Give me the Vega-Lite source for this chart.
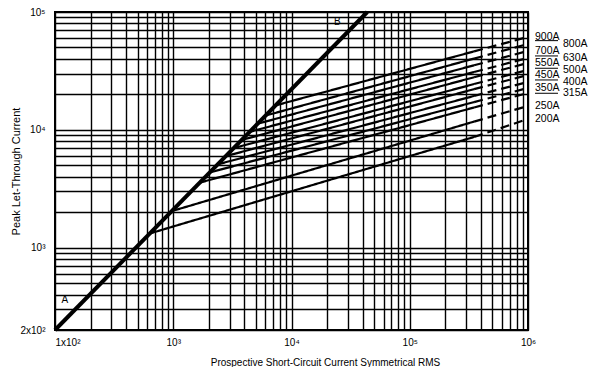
{
  "$schema": "https://vega.github.io/schema/vega-lite/v6.json",
  "width": 473,
  "height": 318,
  "autosize": {"type": "none"},
  "padding": {"left": 55, "top": 12, "right": 65, "bottom": 37},
  "background": "white",
  "config": {
    "font": "Liberation Sans",
    "view": {"stroke": "black", "strokeWidth": 2},
    "axis": {"gridColor": "black", "gridOpacity": 1, "gridWidth": 1.4, "ticks": false, "domain": false, "labelColor": "black", "titleColor": "black", "labelFont": "Liberation Sans", "titleFont": "Liberation Sans", "labelFontSize": 10, "titleFontSize": 10, "titleFontWeight": "normal", "labelOverlap": false}
  },
  "datasets": {
    "fuse": [
      {"s": "200A", "g": "solid", "x": 633, "y": 1319}, {"s": "200A", "g": "solid", "x": 350000, "y": 8700}, {"s": "200A", "g": "dash", "x": 350000, "y": 8700}, {"s": "200A", "g": "dash", "x": 1000000, "y": 12360},
      {"s": "250A", "g": "solid", "x": 971, "y": 2042}, {"s": "250A", "g": "solid", "x": 350000, "y": 11750}, {"s": "250A", "g": "dash", "x": 350000, "y": 11750}, {"s": "250A", "g": "dash", "x": 1000000, "y": 15940},
      {"s": "315A", "g": "solid", "x": 1673, "y": 3561}, {"s": "315A", "g": "solid", "x": 350000, "y": 15480}, {"s": "315A", "g": "dash", "x": 350000, "y": 15480}, {"s": "315A", "g": "dash", "x": 1000000, "y": 20560},
      {"s": "350A", "g": "solid", "x": 2032, "y": 4344}, {"s": "350A", "g": "solid", "x": 350000, "y": 17200}, {"s": "350A", "g": "dash", "x": 350000, "y": 17200}, {"s": "350A", "g": "dash", "x": 1000000, "y": 22660},
      {"s": "400A", "g": "solid", "x": 2374, "y": 5091}, {"s": "400A", "g": "solid", "x": 350000, "y": 19390}, {"s": "400A", "g": "dash", "x": 350000, "y": 19390}, {"s": "400A", "g": "dash", "x": 1000000, "y": 25480},
      {"s": "450A", "g": "solid", "x": 2773, "y": 5968}, {"s": "450A", "g": "solid", "x": 350000, "y": 22140}, {"s": "450A", "g": "dash", "x": 350000, "y": 22140}, {"s": "450A", "g": "dash", "x": 1000000, "y": 29220},
      {"s": "500A", "g": "solid", "x": 3240, "y": 6993}, {"s": "500A", "g": "solid", "x": 350000, "y": 24460}, {"s": "500A", "g": "dash", "x": 350000, "y": 24460}, {"s": "500A", "g": "dash", "x": 1000000, "y": 32230},
      {"s": "550A", "g": "solid", "x": 3785, "y": 8199}, {"s": "550A", "g": "solid", "x": 350000, "y": 27950}, {"s": "550A", "g": "dash", "x": 350000, "y": 27950}, {"s": "550A", "g": "dash", "x": 1000000, "y": 36950},
      {"s": "630A", "g": "solid", "x": 4421, "y": 9612}, {"s": "630A", "g": "solid", "x": 350000, "y": 30930}, {"s": "630A", "g": "dash", "x": 350000, "y": 30930}, {"s": "630A", "g": "dash", "x": 1000000, "y": 40740},
      {"s": "700A", "g": "solid", "x": 5164, "y": 11262}, {"s": "700A", "g": "solid", "x": 350000, "y": 35320}, {"s": "700A", "g": "dash", "x": 350000, "y": 35320}, {"s": "700A", "g": "dash", "x": 1000000, "y": 46710},
      {"s": "800A", "g": "solid", "x": 6034, "y": 13207}, {"s": "800A", "g": "solid", "x": 350000, "y": 40250}, {"s": "800A", "g": "dash", "x": 350000, "y": 40250}, {"s": "800A", "g": "dash", "x": 1000000, "y": 53570},
      {"s": "900A", "g": "solid", "x": 7328, "y": 16112}, {"s": "900A", "g": "solid", "x": 350000, "y": 46340}, {"s": "900A", "g": "dash", "x": 350000, "y": 46340}, {"s": "900A", "g": "dash", "x": 1000000, "y": 61420}
    ],
    "bline": [{"x": 100, "y": 200}, {"x": 43750, "y": 100000}],
    "letters": [{"t": "A", "x": 121, "y": 360}, {"t": "B", "x": 24430, "y": 82300}],
    "rlabels": [
      {"t": "900A", "c": "L", "y": 61420}, {"t": "800A", "c": "R", "y": 53570}, {"t": "700A", "c": "L", "y": 46710}, {"t": "630A", "c": "R", "y": 40740},
      {"t": "550A", "c": "L", "y": 36950}, {"t": "500A", "c": "R", "y": 32230}, {"t": "450A", "c": "L", "y": 29220}, {"t": "400A", "c": "R", "y": 25480},
      {"t": "350A", "c": "L", "y": 22660}, {"t": "315A", "c": "R", "y": 20560}, {"t": "250A", "c": "L", "y": 15940}, {"t": "200A", "c": "L", "y": 12360}
    ],
    "ulines": [{"y": 57140}, {"y": 42360}, {"y": 33310}, {"y": 26500}, {"y": 20430}]
  },
  "layer": [
    {
      "data": {"name": "fuse"},
      "mark": {"type": "line", "color": "black", "strokeWidth": 2.2, "clip": true},
      "encoding": {
        "x": {"field": "x", "type": "quantitative", "scale": {"type": "log", "domain": [100, 1000000], "nice": false},
          "axis": {"title": "Prospective Short-Circuit Current Symmetrical RMS", "values": [100,200,300,400,500,600,700,800,900,1000,2000,3000,4000,5000,6000,7000,8000,9000,10000,20000,30000,40000,50000,60000,70000,80000,90000,100000,200000,300000,400000,500000,600000,700000,800000,900000,1000000],
            "labelExpr": "datum.value == 100 ? '1x10²' : datum.value == 1000 ? '10³' : datum.value == 10000 ? '10⁴' : datum.value == 100000 ? '10⁵' : datum.value == 1000000 ? '10⁶' : ''",
            "labelAlign": {"condition": {"test": "datum.value == 100", "value": "left"}, "value": "center"},
            "labelPadding": 7, "titleX": 270, "titleY": 35, "titleAlign": "center", "titleBaseline": "alphabetic"}},
        "y": {"field": "y", "type": "quantitative", "scale": {"type": "log", "domain": [200, 100000], "nice": false},
          "axis": {"title": "Peak Let-Through Current", "titleFontSize": 11, "values": [200,300,400,500,600,700,800,900,1000,2000,3000,4000,5000,6000,7000,8000,9000,10000,20000,30000,40000,50000,60000,70000,80000,90000,100000],
            "labelExpr": "datum.value == 200 ? '2x10²' : datum.value == 1000 ? '10³' : datum.value == 10000 ? '10⁴' : datum.value == 100000 ? '10⁵' : ''",
            "labelPadding": 10, "titleX": -34, "titleY": 159, "titleAlign": "center"}},
        "detail": [{"field": "s"}, {"field": "g"}],
        "strokeDash": {"field": "g", "type": "nominal", "scale": {"domain": ["solid", "dash"], "range": [[1, 0], [9, 5]]}, "legend": null}
      }
    },
    {
      "data": {"name": "bline"},
      "mark": {"type": "line", "color": "black", "strokeWidth": 4},
      "encoding": {"x": {"field": "x", "type": "quantitative"}, "y": {"field": "y", "type": "quantitative"}}
    },
    {
      "data": {"name": "letters"},
      "mark": {"type": "text", "fontSize": 10, "color": "black", "align": "center", "baseline": "middle"},
      "encoding": {"x": {"field": "x", "type": "quantitative"}, "y": {"field": "y", "type": "quantitative"}, "text": {"field": "t"}}
    },
    {
      "data": {"name": "rlabels"},
      "transform": [{"filter": "datum.c == 'L'"}],
      "mark": {"type": "text", "fontSize": 10.5, "color": "black", "align": "left", "baseline": "middle", "dx": 7, "clip": false},
      "encoding": {"x": {"datum": 1000000, "type": "quantitative"}, "y": {"field": "y", "type": "quantitative"}, "text": {"field": "t"}}
    },
    {
      "data": {"name": "rlabels"},
      "transform": [{"filter": "datum.c == 'R'"}],
      "mark": {"type": "text", "fontSize": 10.5, "color": "black", "align": "left", "baseline": "middle", "dx": 35, "clip": false},
      "encoding": {"x": {"datum": 1000000, "type": "quantitative"}, "y": {"field": "y", "type": "quantitative"}, "text": {"field": "t"}}
    },
    {
      "data": {"name": "ulines"},
      "mark": {"type": "rule", "color": "black", "strokeWidth": 1, "xOffset": 7, "x2Offset": 30, "clip": false},
      "encoding": {"x": {"datum": 1000000, "type": "quantitative"}, "x2": {"datum": 1000000}, "y": {"field": "y", "type": "quantitative"}}
    }
  ]
}
